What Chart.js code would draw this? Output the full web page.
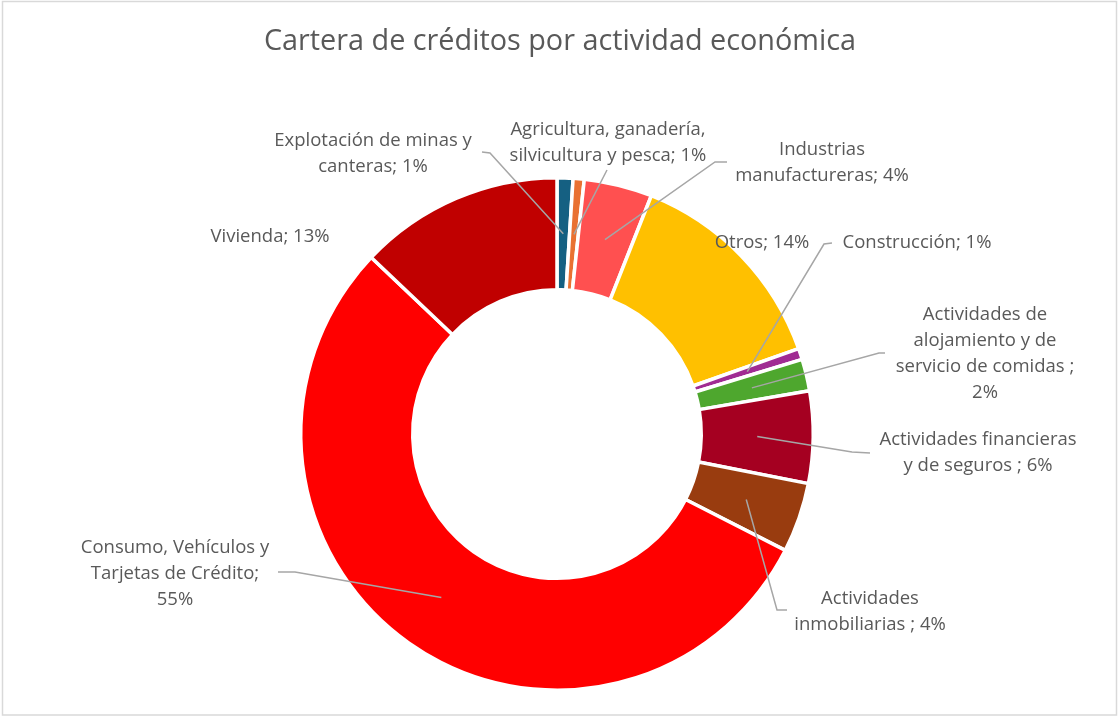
<!DOCTYPE html>
<html>
<head>
<meta charset="utf-8">
<script src="https://cdn.jsdelivr.net/npm/chart.js@4.4.1/dist/chart.umd.min.js"></script>
<style>
  body { margin: 0; background: #fff; }
  canvas { display: block; }
</style>
</head>
<body>
<canvas id="creditChart" width="1119" height="717"></canvas>
<script>
// Data
const categories = [
    'Explotación de minas y canteras',
    'Agricultura, ganadería, silvicultura y pesca',
    'Industrias manufactureras',
    'Otros',
    'Construcción',
    'Actividades de alojamiento y de servicio de comidas ',
    'Actividades financieras y de seguros ',
    'Actividades inmobiliarias ',
    'Consumo, Vehículos y Tarjetas de Crédito',
    'Vivienda'
];
const shares = [1.0, 0.7, 4.3, 13.6, 0.7, 2.0, 5.8, 4.4, 54.6, 12.9];
const sliceColors = ['#156082', '#E97132', '#FF5050', '#FFC000', '#A02B93',
                     '#4EA72E', '#A50021', '#993C0F', '#FF0000', '#C00000'];

// How each data label wraps (percent is appended to the last line)
const labelLines = [
    ['Explotación de minas y', 'canteras;'],
    ['Agricultura, ganadería,', 'silvicultura y pesca;'],
    ['Industrias', 'manufactureras;'],
    ['Otros;'],
    ['Construcción;'],
    ['Actividades de', 'alojamiento y de', 'servicio de comidas ;', ''],
    ['Actividades financieras', 'y de seguros ;'],
    ['Actividades', 'inmobiliarias ;'],
    ['Consumo, Vehículos y', 'Tarjetas de Crédito;', ''],
    ['Vivienda;']
];

// label placement: centre x, first line y, leader start and knee (null = no leader)
const labelLayout = [
    { x: 373, y: 141, from: [482, 152], knee: [490, 153] },
    { x: 608, y: 130, from: [607, 170], knee: null },
    { x: 822, y: 150, from: [727, 162], knee: [715, 162] },
    { x: 762, y: 243, from: null },
    { x: 917, y: 243, from: [832, 243], knee: [824, 244] },
    { x: 985, y: 315, from: [885, 353], knee: [879, 353] },
    { x: 978, y: 440, from: [870, 453], knee: [852, 452] },
    { x: 870, y: 599, from: [787, 610], knee: [777, 610] },
    { x: 175, y: 548, from: [278, 572], knee: [295, 572] },
    { x: 270, y: 237, from: null }
];

const total = shares.reduce((a, b) => a + b, 0);
const fontFamily = '"Open Sans", "Noto Sans", sans-serif';

const labelPlugin = {
    id: 'excelLabels',
    afterDraw(chart) {
        const ctx = chart.ctx;
        const arcs = chart.getDatasetMeta(0).data;
        ctx.save();
        // leader lines
        ctx.strokeStyle = '#A6A6A6';
        ctx.lineWidth = 1.5;
        labelLayout.forEach((lay, i) => {
            if (!lay.from) return;
            const p = arcs[i].tooltipPosition();
            ctx.beginPath();
            ctx.moveTo(lay.from[0], lay.from[1]);
            if (lay.knee) ctx.lineTo(lay.knee[0], lay.knee[1]);
            ctx.lineTo(p.x, p.y);
            ctx.stroke();
        });
        // label text
        ctx.fillStyle = '#595959';
        ctx.font = '18.5px ' + fontFamily;
        ctx.textAlign = 'center';
        ctx.textBaseline = 'middle';
        labelLayout.forEach((lay, i) => {
            const pct = Math.round(shares[i] / total * 100) + '%';
            const lines = labelLines[i].slice();
            const last = lines.length - 1;
            lines[last] = lines[last] === '' ? pct : lines[last] + ' ' + pct;
            lines.forEach((t, k) => ctx.fillText(t, lay.x, lay.y + k * 25.8));
        });
        // title
        ctx.font = '28.8px ' + fontFamily;
        ctx.fillText('Cartera de créditos por actividad económica', 560, 42);
        // chart area border
        ctx.strokeStyle = '#D9D9D9';
        ctx.lineWidth = 1.5;
        ctx.strokeRect(2.5, 1.5, 1114, 713.5);
        ctx.restore();
    }
};

const ctx = document.getElementById('creditChart').getContext('2d');
const creditChart = new Chart(ctx, {
    type: 'doughnut',
    data: {
        labels: categories,
        datasets: [{
            data: shares,
            backgroundColor: sliceColors,
            borderColor: '#FFFFFF',
            borderWidth: 3.5
        }]
    },
    options: {
        responsive: false,
        animation: false,
        cutout: '56.3%',
        layout: { padding: { top: 176, bottom: 25, left: 0, right: 5 } },
        plugins: {
            legend: { display: false },
            tooltip: { enabled: false }
        }
    },
    plugins: [labelPlugin]
});
</script>
</body>
</html>
